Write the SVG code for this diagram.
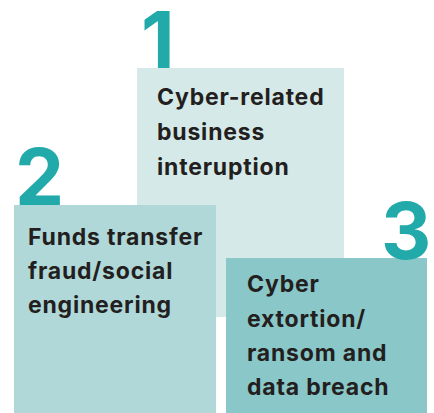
<svg xmlns="http://www.w3.org/2000/svg" width="434" height="413" viewBox="0 0 434 413">
<style>
.num{font-family:Inter,"Liberation Sans",sans-serif;font-weight:700;font-size:78px;fill:#21AAA9}
.lbl{font-family:Inter,"Liberation Sans",sans-serif;font-weight:700;font-size:23px;letter-spacing:0.8px;fill:#231F20}
</style>
<rect width="434" height="413" fill="#FFFFFF"/>
<g id="node1">
<rect x="137" y="68" width="207" height="249" fill="#D5E9E8"/>
<text class="num" x="141" y="68">1</text>
<text class="lbl" x="157" y="105">Cyber-related</text>
<text class="lbl" x="157" y="140">business</text>
<text class="lbl" x="157" y="175">interuption</text>
</g>
<g id="node2">
<rect x="14" y="205" width="202" height="208" fill="#B0D8D8"/>
<text class="num" x="15" y="205">2</text>
<text class="lbl" x="28" y="245">Funds transfer</text>
<text class="lbl" x="28" y="279">fraud/social</text>
<text class="lbl" x="28" y="313">engineering</text>
</g>
<g id="node3">
<rect x="226" y="258" width="201" height="155" fill="#89C7C8"/>
<text class="num" x="381" y="259">3</text>
<text class="lbl" x="247" y="292">Cyber</text>
<text class="lbl" x="247" y="327">extortion/</text>
<text class="lbl" x="247" y="361">ransom and</text>
<text class="lbl" x="247" y="395">data breach</text>
</g>
<g id="connectors"></g>
</svg>
